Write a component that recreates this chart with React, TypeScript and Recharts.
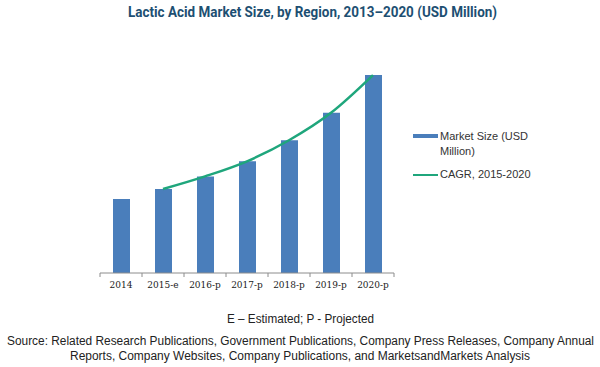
import React from "react";
import { ComposedChart, Bar, Line, XAxis, YAxis } from "recharts";

const years = ["2014", "2015-e", "2016-p", "2017-p", "2018-p", "2019-p", "2020-p"];
const marketSize = [1429, 1623, 1867, 2158, 2565, 3096, 3825];
const cagrLine = [null, 1623, 1867, 2158, 2565, 3096, 3825];

const data = years.map((y, i) => ({ year: y, size: marketSize[i], cagr: cagrLine[i] }));

const W = 600;
const H = 367;
const M = { top: 66, left: 100, right: 206, bottom: 64 };
const HALF_BAND = (W - M.left - M.right) / years.length / 2;

const Tick = (props: any) => {
  const { x, y, payload, index } = props;
  return (
    <g>
      <line x1={x - HALF_BAND} x2={x - HALF_BAND} y1={y} y2={y + 4} stroke="#8c8c8c" strokeWidth={1} />
      {index === years.length - 1 && (
        <line x1={x + HALF_BAND} x2={x + HALF_BAND} y1={y} y2={y + 4} stroke="#8c8c8c" strokeWidth={1} />
      )}
      <text x={x} y={y + 15} textAnchor="middle" fontFamily="'DejaVu Serif', serif" fontSize={9} fill="#1a1a1a">
        {payload.value}
      </text>
    </g>
  );
};

const footFont = "'Liberation Sans', Arial, sans-serif";

export default function App() {
  return (
    <div style={{ position: "absolute", left: 0, top: 0, width: W, height: H, background: "#fff", overflow: "hidden" }}>
      <svg width={W} height={40} style={{ position: "absolute", left: 0, top: 0 }}>
        <text
          x={128}
          y={17}
          textLength={369}
          lengthAdjust="spacingAndGlyphs"
          fontFamily="Roboto, sans-serif"
          fontWeight={700}
          fontSize={15}
          fill="#1d4f72"
        >
          Lactic Acid Market Size, by Region, 2013–2020 (USD Million)
        </text>
      </svg>
      <div style={{ position: "absolute", left: 0, top: 0 }}>
        <ComposedChart width={W} height={H} data={data} margin={M}>
          <XAxis
            dataKey="year"
            axisLine={{ stroke: "#8c8c8c", strokeWidth: 1 }}
            tickLine={false}
            tickSize={0}
            tickMargin={0}
            height={30}
            interval={0}
            tick={<Tick />}
          />
          <YAxis hide domain={[0, 4000]} />
          <Bar dataKey="size" fill="#4a7ebb" barSize={17} isAnimationActive={false} />
          <Line
            dataKey="cagr"
            type="monotone"
            stroke="#1fa67c"
            strokeWidth={2.5}
            dot={false}
            connectNulls
            isAnimationActive={false}
          />
        </ComposedChart>
      </div>
      <svg width={200} height={80} style={{ position: "absolute", left: 400, top: 120 }}>
        <rect x={13} y={14} width={25} height={4} fill="#4a7ebb" />
        <text x={40} y={19.5} fontFamily={footFont} fontSize={11} fill="#333">
          Market Size (USD
        </text>
        <text x={40} y={35} fontFamily={footFont} fontSize={11} fill="#333">
          Million)
        </text>
        <line x1={13} x2={38} y1={55} y2={55} stroke="#1fa67c" strokeWidth={2} />
        <text x={40} y={57.5} fontFamily={footFont} fontSize={11} fill="#333">
          CAGR, 2015-2020
        </text>
      </svg>
      <svg width={W} height={60} style={{ position: "absolute", left: 0, top: 307 }}>
        <text
          x={227}
          y={15.7}
          textLength={147}
          lengthAdjust="spacingAndGlyphs"
          fontFamily={footFont}
          fontSize={12}
          fill="#222"
        >
          E – Estimated; P - Projected
        </text>
        <text
          x={7}
          y={38}
          textLength={587}
          lengthAdjust="spacingAndGlyphs"
          fontFamily={footFont}
          fontSize={12}
          fill="#222"
        >
          Source: Related Research Publications,  Government Publications,  Company Press Releases,  Company Annual
        </text>
        <text
          x={70}
          y={53}
          textLength={460}
          lengthAdjust="spacingAndGlyphs"
          fontFamily={footFont}
          fontSize={12}
          fill="#222"
        >
          Reports,  Company Websites,  Company Publications,  and MarketsandMarkets Analysis
        </text>
      </svg>
    </div>
  );
}
